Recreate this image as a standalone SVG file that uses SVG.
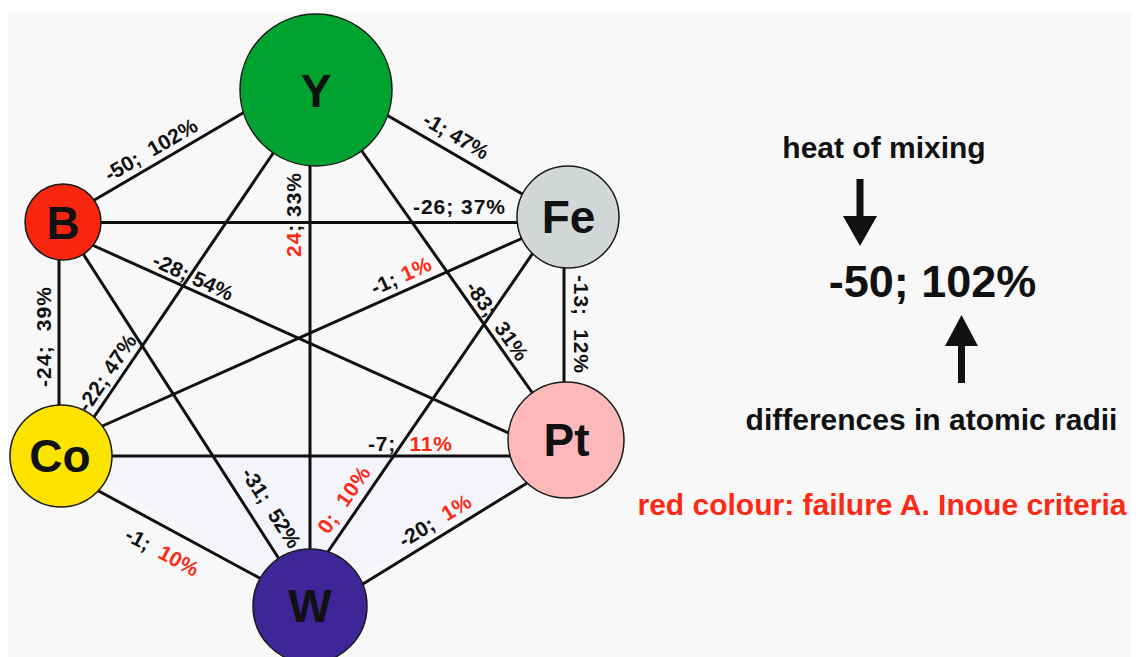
<svg xmlns="http://www.w3.org/2000/svg" width="1136" height="657" viewBox="0 0 1136 657">
<defs>
<style>
.edge{stroke:#111;stroke-width:3;fill:none;stroke-linecap:butt}
.node{stroke:#1a1a1a;stroke-width:1.5}
.nl{font-family:"Liberation Sans",Arial,sans-serif;font-weight:bold;font-size:46px;fill:#111;text-anchor:middle}
.lbl{font-family:"Liberation Sans",Arial,sans-serif;font-weight:bold;font-size:21px;fill:#111;text-anchor:middle}
.r{fill:#fb2a14}
.big{font-family:"Liberation Sans",Arial,sans-serif;font-weight:bold;fill:#111;text-anchor:middle}
</style>
</defs>
<rect x="0" y="0" width="1136" height="657" fill="#ffffff"/>
<rect x="8" y="12.5" width="1123" height="650" fill="#f8f8f8"/>
<polygon points="61,456 566,456 310,606" fill="#f4f5fb"/>

<g id="connectors">
<line class="edge" x1="91" y1="202" x2="248" y2="110"/>
<line class="edge" x1="310" y1="160" x2="310" y2="555"/>
<line class="edge" x1="95" y1="222.5" x2="522" y2="222.5"/>
<line class="edge" x1="276" y1="149" x2="92" y2="420"/>
<line class="edge" x1="90" y1="244" x2="513" y2="435"/>
<line class="edge" x1="80" y1="249" x2="281" y2="562"/>
<line class="edge" x1="59" y1="255" x2="59" y2="410"/>
<line class="edge" x1="385" y1="114" x2="524" y2="195"/>
<line class="edge" x1="359" y1="147" x2="536" y2="398"/>
<line class="edge" x1="564" y1="262" x2="564" y2="388"/>
<line class="edge" x1="525" y1="237" x2="98" y2="428"/>
<line class="edge" x1="535" y1="250" x2="325" y2="556"/>
<line class="edge" x1="108" y1="456" x2="514" y2="456"/>
<line class="edge" x1="95" y1="489" x2="265" y2="581"/>
<line class="edge" x1="532" y1="480" x2="358" y2="587"/>
</g>

<g id="edge-labels">
<text class="lbl" xml:space="preserve" transform="translate(151,150) rotate(-30.3)" y="7" textLength="104" lengthAdjust="spacing">-50;  102%</text>
<text class="lbl" xml:space="preserve" transform="translate(456,136) rotate(30.2)" y="7" textLength="72" lengthAdjust="spacing">-1; 47%</text>
<text class="lbl" xml:space="preserve" transform="translate(459,207)" y="7" textLength="92" lengthAdjust="spacing">-26; 37%</text>
<text class="lbl" xml:space="preserve" transform="translate(294,215) rotate(-90)" y="7" textLength="84" lengthAdjust="spacing"><tspan class="r">24</tspan>; 33%</text>
<text class="lbl" xml:space="preserve" transform="translate(193,277) rotate(24.4)" y="7" textLength="86" lengthAdjust="spacing">-28; 54%</text>
<text class="lbl" xml:space="preserve" transform="translate(401,276) rotate(-24.2)" y="7" textLength="64" lengthAdjust="spacing">-1; <tspan class="r">1%</tspan></text>
<text class="lbl" xml:space="preserve" transform="translate(497,321) rotate(54.6)" y="7" textLength="92" lengthAdjust="spacing">-83;  31%</text>
<text class="lbl" xml:space="preserve" transform="translate(581,324) rotate(90)" y="7" textLength="98" lengthAdjust="spacing">-13;  12%</text>
<text class="lbl" xml:space="preserve" transform="translate(44,337) rotate(-90)" y="7" textLength="100" lengthAdjust="spacing">-24;  39%</text>
<text class="lbl" xml:space="preserve" transform="translate(107,373) rotate(-55.7)" y="7" textLength="88" lengthAdjust="spacing">-22; 47%</text>
<text class="lbl" xml:space="preserve" transform="translate(410,444)" y="7" textLength="84" lengthAdjust="spacing">-7;  <tspan class="r">11%</tspan></text>
<text class="lbl" xml:space="preserve" transform="translate(271,508) rotate(57.2)" y="7" textLength="91" lengthAdjust="spacing">-31;  52%</text>
<text class="lbl r" xml:space="preserve" transform="translate(344,500) rotate(-55.4)" y="7" textLength="76" lengthAdjust="spacing">0;  10%</text>
<text class="lbl" xml:space="preserve" transform="translate(162,552) rotate(28.3)" y="7" textLength="80" lengthAdjust="spacing">-1;  <tspan class="r">10%</tspan></text>
<text class="lbl" xml:space="preserve" transform="translate(435,521) rotate(-31.6)" y="7" textLength="81" lengthAdjust="spacing">-20;  <tspan class="r">1%</tspan></text>
</g>

<g id="node-Y">
<circle class="node" cx="316" cy="90" r="76" fill="#00a230"/>
<text class="nl" x="316" y="106.5">Y</text>
</g>
<g id="node-B">
<circle class="node" cx="63" cy="222" r="38" fill="#f8250f"/>
<text class="nl" x="63" y="239">B</text>
</g>
<g id="node-Fe">
<circle class="node" cx="568" cy="217" r="51" fill="#d2d8d8"/>
<text class="nl" x="568.5" y="233">Fe</text>
</g>
<g id="node-Co">
<circle class="node" cx="61" cy="456" r="51" fill="#fde300"/>
<text class="nl" x="60" y="472">Co</text>
</g>
<g id="node-Pt">
<circle class="node" cx="566" cy="440" r="58" fill="#fdb9ba"/>
<text class="nl" x="566.5" y="456">Pt</text>
</g>
<g id="node-W">
<circle class="node" cx="310" cy="606" r="57" fill="#3e2598"/>
<text class="nl" x="310" y="622">W</text>
</g>

<g id="legend">
<text class="big" x="884" y="158" font-size="30">heat of mixing</text>
<rect x="856.5" y="179" width="7" height="39" fill="#111"/>
<polygon points="843,216 877,216 860,246" fill="#111"/>
<text class="big" x="932.5" y="297" font-size="45">-50; 102%</text>
<polygon points="945,346 978,346 961.5,315" fill="#111"/>
<rect x="958" y="344" width="7" height="39" fill="#111"/>
<text class="big" x="931.5" y="430" font-size="30">differences in atomic radii</text>
<text class="big" x="882" y="515" font-size="30" style="fill:#fb2a14">red colour: failure A. Inoue criteria</text>
</g>
</svg>
